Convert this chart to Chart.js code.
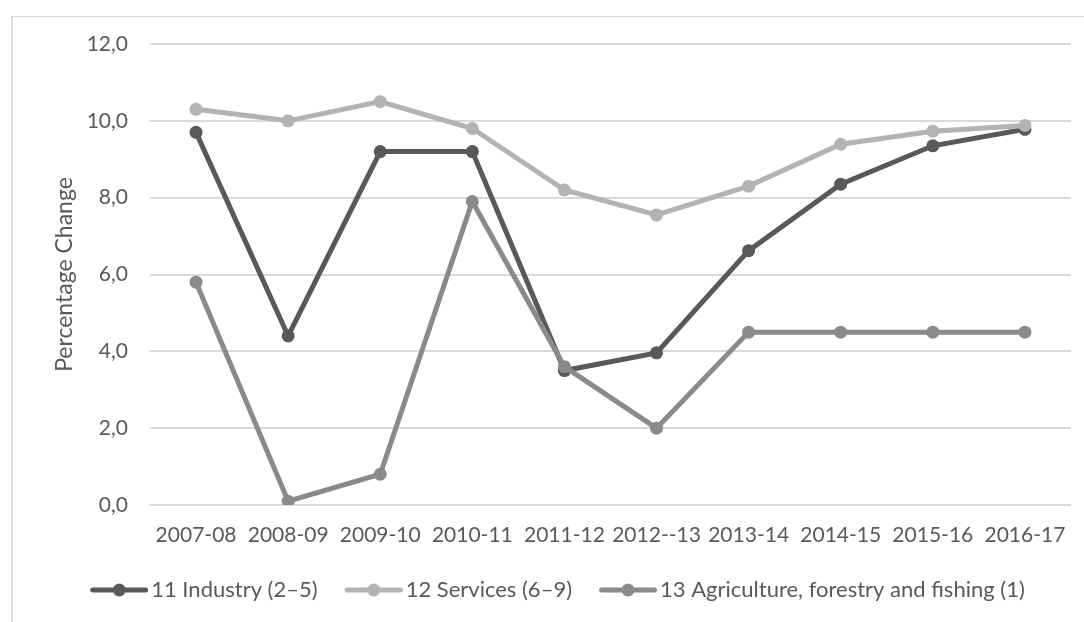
<!DOCTYPE html>
<html>
<head>
<meta charset="utf-8">
<script src="https://cdn.jsdelivr.net/npm/chart.js@4/dist/chart.umd.min.js"></script>
<style>
  html, body { margin: 0; padding: 0; background: #ffffff; }
  #wrap { position: relative; width: 1084px; height: 622px; overflow: hidden; }
  #frame {
    position: absolute; left: 11px; top: 16px; right: -5px; bottom: -5px;
    border-left: 2px solid #dedede; border-top: 1px solid #d6d6d6;
  }
  #c { position: absolute; left: 0; top: 0; }
</style>
</head>
<body>
<div id="wrap">
  <div id="frame"></div>
  <canvas id="c" width="1084" height="622"></canvas>
</div>
<script>
// Financial years on the category axis
const years = ['2007-08', '2008-09', '2009-10', '2010-11', '2011-12',
               '2012--13', '2013-14', '2014-15', '2015-16', '2016-17'];

// Percentage change per sector
const industry    = [9.7, 4.4, 9.2, 9.2, 3.5, 3.96, 6.62, 8.35, 9.35, 9.78];
const services    = [10.3, 10.0, 10.5, 9.8, 8.2, 7.55, 8.3, 9.39, 9.73, 9.88];
const agriculture = [5.8, 0.1, 0.8, 7.9, 3.6, 2.0, 4.5, 4.5, 4.5, 4.5];

// Series names as shown in the legend
const seriesNames = ['11 Industry (2\u20135)', '12 Services (6\u20139)',
                     '13 Agriculture, forestry and fishing (1)'];

// Value axis range and tick step
const yMin = 0, yMax = 12, yStep = 2;

const FONT = 'Lato';
const TEXT = '#595959';
const colors = ['#595959', '#b3b3b3', '#8a8a8a'];

// Legend swatch: short line with a dot in the middle
function swatch(color) {
  const cv = document.createElement('canvas');
  cv.width = 66; cv.height = 16;
  const g = cv.getContext('2d');
  g.strokeStyle = color; g.lineWidth = 5; g.lineCap = 'round';
  g.beginPath(); g.moveTo(10.5, 8); g.lineTo(63.5, 8); g.stroke();
  g.fillStyle = color;
  g.beginPath(); g.arc(37, 8, 6.5, 0, Math.PI * 2); g.fill();
  return cv;
}

const seriesData = [industry, services, agriculture];
const datasets = seriesData.map((vals, i) => ({
  label: seriesNames[i],
  data: vals,
  borderColor: colors[i],
  backgroundColor: colors[i],
  borderWidth: 5,
  pointRadius: 6.5,
  pointHoverRadius: 6.5,
  pointBorderWidth: 0,
  tension: 0,
  order: 3 - i
}));

new Chart(document.getElementById('c'), {
  type: 'line',
  data: { labels: years, datasets },
  options: {
    responsive: false,
    animation: false,
    events: [],
    layout: { padding: { top: 44, right: 13, bottom: 11, left: 44 } },
    plugins: {
      tooltip: { enabled: false },
      legend: {
        position: 'bottom',
        labels: {
          font: { family: FONT, size: 22 },
          color: TEXT,
          usePointStyle: true,
          pointStyleWidth: 50,
          padding: 27,
          generateLabels: (chart) => chart.data.datasets.map((ds, i) => ({
            text: ds.label,
            fontColor: TEXT,
            pointStyle: swatch(ds.borderColor),
            lineWidth: 0,
            strokeStyle: 'rgba(0,0,0,0)',
            fillStyle: 'rgba(0,0,0,0)',
            hidden: false,
            datasetIndex: i
          }))
        }
      }
    },
    scales: {
      x: {
        offset: true,
        grid: { display: false, drawTicks: false },
        border: { display: false },
        ticks: {
          font: { family: FONT, size: 21 },
          color: TEXT,
          padding: 18,
          maxRotation: 0,
          autoSkip: false
        },
        afterFit: (s) => { s.height = 47; }
      },
      y: {
        min: yMin, max: yMax,
        grid: { color: '#d9d9d9', lineWidth: 2, drawTicks: false },
        border: { display: false },
        ticks: {
          stepSize: yStep,
          font: { family: FONT, size: 21 },
          color: TEXT,
          padding: 22,
          callback: (v) => v.toFixed(1).replace('.', ',')
        },
        title: {
          display: true,
          text: 'Percentage Change',
          font: { family: FONT, size: 23 },
          color: TEXT,
          padding: { top: 7, bottom: 0 }
        },
        afterFit: (s) => { s.width = 106; }
      }
    }
  }
});
</script>
</body>
</html>
